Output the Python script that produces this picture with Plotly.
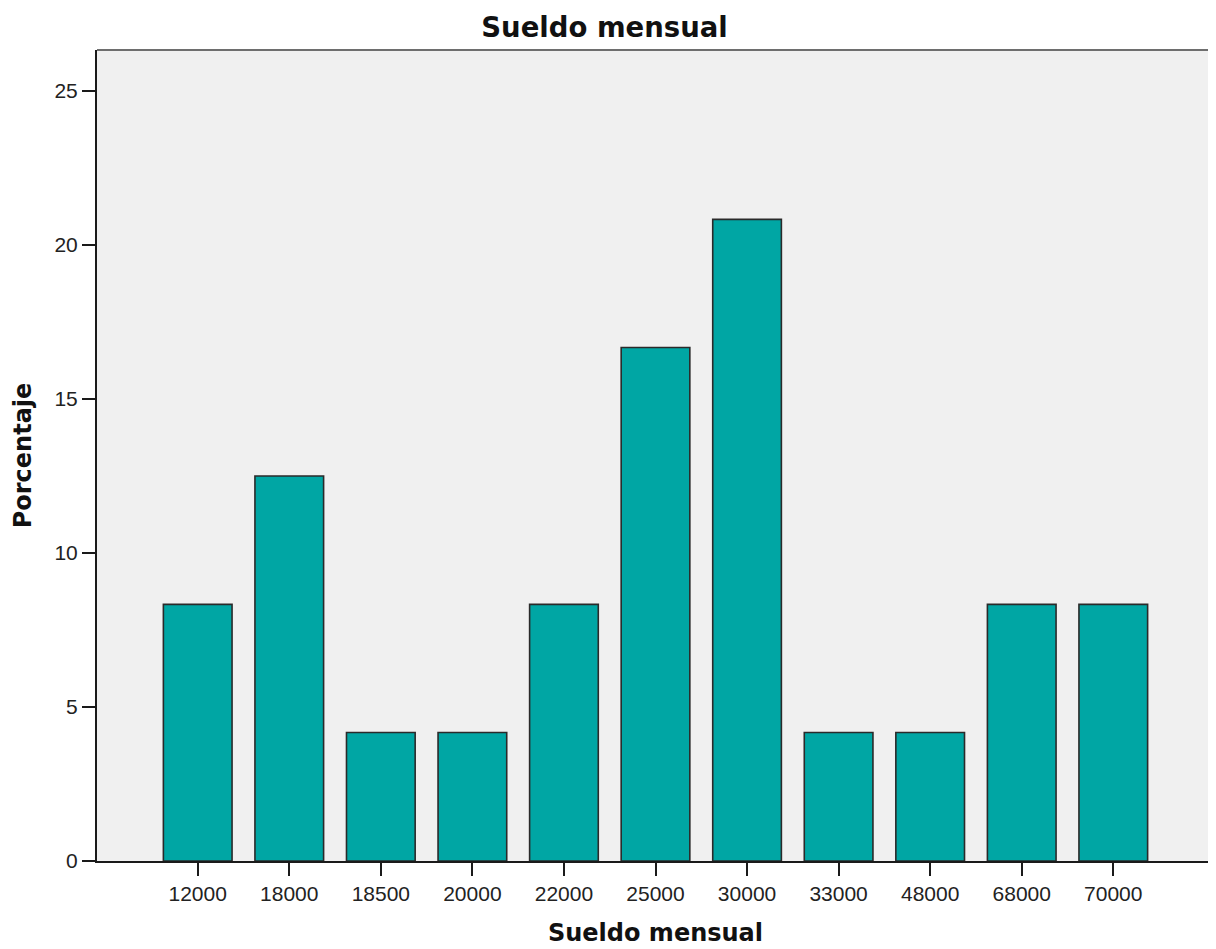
import plotly.graph_objects as go

categories = ["12000", "18000", "18500", "20000", "22000", "25000",
              "30000", "33000", "48000", "68000", "70000"]
percentages = [8.33, 12.50, 4.17, 4.17, 8.33, 16.67, 20.83, 4.17, 4.17, 8.33, 8.33]
y_ticks = [0, 5, 10, 15, 20, 25]

# the page body has an 8px default margin, so the figure is offset by 8px
W, H = 1208, 941

fig = go.Figure()
fig.add_trace(go.Bar(
    x=categories,
    y=percentages,
    width=0.75,
    marker=dict(color="#00A6A4", line=dict(color="#2a2a2a", width=1.6)),
    showlegend=False,
))

fig.update_layout(
    width=W,
    height=H,
    margin=dict(l=89, r=2, t=42, b=88),
    paper_bgcolor="white",
    plot_bgcolor="#F0F0F0",
    title=dict(
        text="<b>Sueldo mensual</b>",
        font=dict(family="DejaVu Sans", size=27.5, color="#111"),
        x=596.5 / W, xanchor="center", xref="container",
        y=1 - 19 / H, yanchor="middle", yref="container",
    ),
    xaxis=dict(
        type="category",
        range=[-1.1, 11.1],
        showgrid=False,
        showline=True, linecolor="#1a1a1a", linewidth=2,
        ticks="outside", ticklen=13, tickwidth=2, tickcolor="#1a1a1a",
        tickfont=dict(family="Liberation Sans", size=21, color="#222"),
        title=dict(text="<b>Sueldo mensual</b>",
                   font=dict(family="DejaVu Sans", size=24, color="#111"),
                   standoff=20),
        zeroline=False,
    ),
    yaxis=dict(
        range=[0, 26.33],
        tickvals=y_ticks,
        showgrid=False,
        showline=True, linecolor="#1a1a1a", linewidth=2,
        ticks="outside", ticklen=13, tickwidth=2, tickcolor="#1a1a1a",
        tickfont=dict(family="Liberation Sans", size=21, color="#222"),
        title=dict(text="<b>Porcentaje</b>",
                   font=dict(family="DejaVu Sans", size=24, color="#111"),
                   standoff=16),
        zeroline=False,
    ),
    shapes=[
        dict(type="line", xref="paper", yref="paper", x0=0, x1=1, y0=1, y1=1,
             line=dict(color="#6e6e6e", width=2)),
        dict(type="line", xref="paper", yref="paper", x0=1, x1=1, y0=0, y1=1,
             line=dict(color="#6e6e6e", width=2)),
    ],
)

fig.write_html("out.html")
